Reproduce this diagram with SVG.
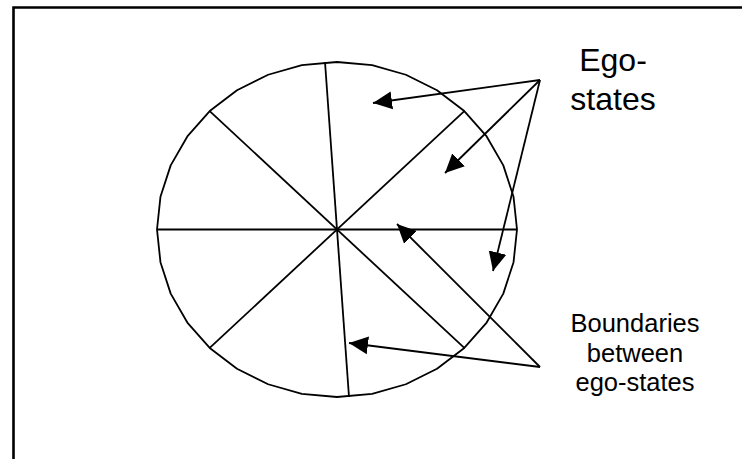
<svg xmlns="http://www.w3.org/2000/svg" width="742" height="459" viewBox="0 0 742 459">
<style>
.shape{fill:none;stroke:#000;stroke-width:1.8;stroke-linejoin:round}
.conn{fill:none;stroke:#000;stroke-width:1.8}
.lbl{font-family:"Liberation Sans",Arial,sans-serif;fill:#000;text-anchor:middle}
</style>
<defs>
<marker id="ah" markerUnits="userSpaceOnUse" markerWidth="20" markerHeight="20" viewBox="0 0 20 20" refX="19" refY="10" orient="auto">
<path d="M0,1 L19,10 L0,19 Z" fill="#000"/>
</marker>
</defs>
<rect width="742" height="459" fill="#fff"/>
<path d="M13.5,459 V7.5 H742" fill="none" stroke="#000" stroke-width="2.6"/>
<g id="circle">
<polygon class="shape" points="517,229.5 513.54,262.18 503.3,293.6 486.66,322.56 464.28,347.94 437,368.77 405.88,384.25 372.12,393.78 337,397 301.88,393.78 268.12,384.25 237,368.77 209.72,347.94 187.34,322.56 170.7,293.6 160.46,262.18 157,229.5 160.46,196.82 170.7,165.4 187.34,136.44 209.72,111.06 237,90.23 268.12,74.75 301.88,65.22 337,62 372.12,65.22 405.88,74.75 437,90.23 464.28,111.06 486.66,136.44 503.3,165.4 513.54,196.82"/>
<line class="shape" x1="157" y1="229.5" x2="517" y2="229.5"/>
<line class="shape" x1="325" y1="62" x2="349" y2="397"/>
<line class="shape" x1="209.72" y1="111.06" x2="464.28" y2="347.94"/>
<line class="shape" x1="464.28" y1="111.06" x2="209.72" y2="347.94"/>
</g>
<g id="label-ego-states">
<text class="lbl" font-size="32" x="613" y="71">Ego-</text>
<text class="lbl" font-size="32" x="613" y="110">states</text>
</g>
<g id="label-boundaries">
<text class="lbl" font-size="25.5" x="635" y="332">Boundaries</text>
<text class="lbl" font-size="25.5" x="635" y="362">between</text>
<text class="lbl" font-size="25.5" x="635" y="391">ego-states</text>
</g>
<g id="connectors">
<line class="conn" x1="540" y1="80" x2="373" y2="103" marker-end="url(#ah)"/>
<line class="conn" x1="540" y1="80" x2="445" y2="173" marker-end="url(#ah)"/>
<line class="conn" x1="540" y1="80" x2="493" y2="271" marker-end="url(#ah)"/>
<line class="conn" x1="540" y1="367" x2="397" y2="224" marker-end="url(#ah)"/>
<line class="conn" x1="540" y1="367" x2="349" y2="343" marker-end="url(#ah)"/>
</g>
</svg>
